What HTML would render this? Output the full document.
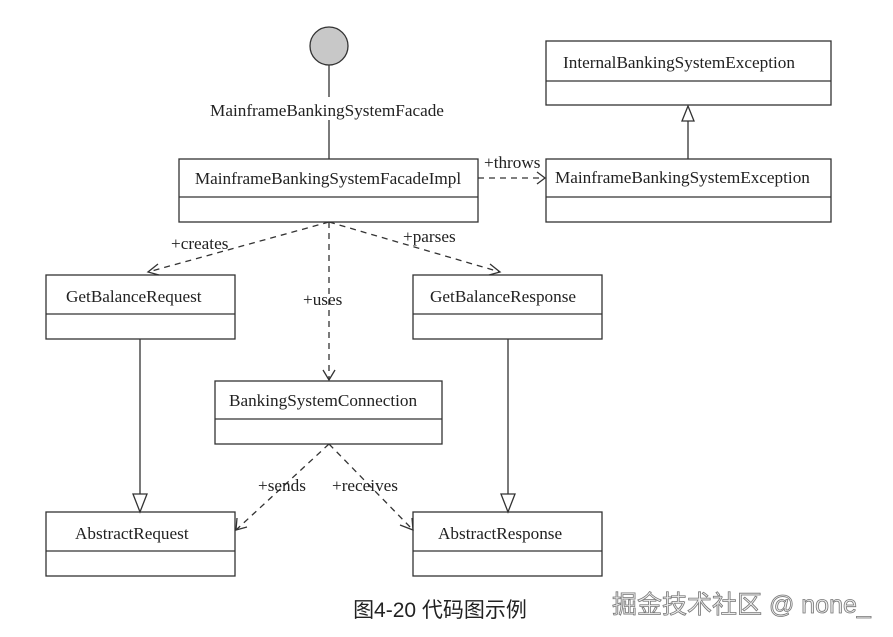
<!DOCTYPE html>
<html><head><meta charset="utf-8"><style>
html,body{margin:0;padding:0;background:#fff;width:893px;height:637px;overflow:hidden}
svg text{font-family:"Liberation Serif",serif;font-size:17.2px;fill:#222}
</style></head><body>
<svg width="893" height="637" viewBox="0 0 893 637" xmlns="http://www.w3.org/2000/svg">
<g fill="#fff" stroke="#333" stroke-width="1.3">
<rect x="179" y="159" width="299" height="63"/><line x1="179" y1="197" x2="478" y2="197"/>
<rect x="546" y="41" width="285" height="64"/><line x1="546" y1="81" x2="831" y2="81"/>
<rect x="546" y="159" width="285" height="63"/><line x1="546" y1="197" x2="831" y2="197"/>
<rect x="46" y="275" width="189" height="64"/><line x1="46" y1="314" x2="235" y2="314"/>
<rect x="413" y="275" width="189" height="64"/><line x1="413" y1="314" x2="602" y2="314"/>
<rect x="215" y="381" width="227" height="63"/><line x1="215" y1="419" x2="442" y2="419"/>
<rect x="46" y="512" width="189" height="64"/><line x1="46" y1="551" x2="235" y2="551"/>
<rect x="413" y="512" width="189" height="64"/><line x1="413" y1="551" x2="602" y2="551"/>
</g>
<circle cx="329" cy="46" r="19" fill="#c8c8c8" stroke="#333" stroke-width="1.3"/>
<g stroke="#333" stroke-width="1.3" fill="none">
<line x1="329" y1="65" x2="329" y2="97"/><line x1="329" y1="120" x2="329" y2="159"/>
<line x1="688" y1="159" x2="688" y2="120"/>
<polygon points="688,106 682,121 694,121" fill="#fff"/>
<line x1="140" y1="339" x2="140" y2="494"/>
<polygon points="140,512 133,494 147,494" fill="#fff"/>
<line x1="508" y1="339" x2="508" y2="494"/>
<polygon points="508,512 501,494 515,494" fill="#fff"/>
<g stroke-dasharray="6,5">
<line x1="478" y1="178" x2="545" y2="178"/>
<line x1="329" y1="222" x2="148" y2="272"/>
<line x1="329" y1="222" x2="500" y2="272"/>
<line x1="329" y1="222" x2="329" y2="380"/>
<line x1="329" y1="444" x2="236" y2="530"/>
<line x1="329" y1="444" x2="413" y2="530"/>
</g>
<polyline points="537,172 545,178 537,184"/>
<polyline points="158,264 148,272 159,275"/>
<polyline points="490,264 500,272 489,275"/>
<polyline points="323,370 329,380 335,370"/>
<polyline points="237,518 236,530 247,527"/>
<polyline points="400,525 413,530 412,518"/>
</g>
<text x="327" y="116" text-anchor="middle">MainframeBankingSystemFacade</text>
<text x="328" y="184" text-anchor="middle">MainframeBankingSystemFacadeImpl</text>
<text x="563" y="68">InternalBankingSystemException</text>
<text x="555" y="183">MainframeBankingSystemException</text>
<text x="66" y="302">GetBalanceRequest</text>
<text x="430" y="302">GetBalanceResponse</text>
<text x="229" y="406">BankingSystemConnection</text>
<text x="75" y="539">AbstractRequest</text>
<text x="438" y="539">AbstractResponse</text>
<text x="484" y="168">+throws</text>
<text x="171" y="249">+creates</text>
<text x="403" y="242">+parses</text>
<text x="303" y="305">+uses</text>
<text x="258" y="491">+sends</text>
<text x="332" y="491">+receives</text>
<text x="440" y="617" text-anchor="middle" style="font-family:'Liberation Sans','Noto Sans CJK SC',sans-serif;font-size:21px;fill:#222">图4-20 代码图示例</text>
<text x="612" y="613" style="font-family:'Liberation Sans','Noto Sans CJK SC',sans-serif;font-size:25px;fill:#eee;stroke:#777;stroke-width:0.8">掘金技术社区 @ none_</text>
</svg>
</body></html>
